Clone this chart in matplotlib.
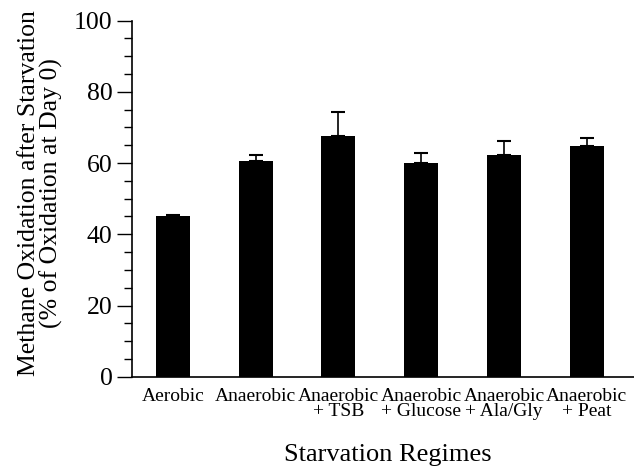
import numpy as np
import matplotlib.pyplot as plt
from matplotlib.ticker import MultipleLocator

categories = ["Aerobic", "Anaerobic", "Anaerobic\n+ TSB", "Anaerobic\n+ Glucose",
              "Anaerobic\n+ Ala/Gly", "Anaerobic\n+ Peat"]
values = [45.2, 60.5, 67.5, 60.1, 62.2, 64.7]
errors = [0.3, 1.7, 6.8, 2.6, 4.1, 2.3]

plt.rcParams["font.family"] = ["Liberation Serif", "DejaVu Serif"]

fig = plt.figure(figsize=(6.34, 4.68), dpi=100)
ax = fig.add_axes([0.2085, 0.195, 0.7915, 0.761])

x = np.arange(len(categories))
ax.errorbar(x, values, yerr=[np.zeros(len(errors)), errors], fmt="none",
            ecolor="black", elinewidth=1.2, capsize=5, capthick=1.5, zorder=1)
ax.bar(x, values, width=0.41, color="black", zorder=2)

ax.set_xlim(-0.49, 5.57)
ax.set_ylim(0, 100)
ax.set_xticks(x)
ax.set_xticklabels(categories, fontsize=14, linespacing=0.85)
ax.tick_params(axis="x", length=0, pad=8)
ax.yaxis.set_major_locator(MultipleLocator(20))
ax.yaxis.set_minor_locator(MultipleLocator(5))
ax.tick_params(axis="y", which="major", length=11, width=1, labelsize=18.5, pad=3)
ax.tick_params(axis="y", which="minor", length=6, width=1)

for s in ["top", "right"]:
    ax.spines[s].set_visible(False)
ax.spines["left"].set_linewidth(1.2)
ax.spines["bottom"].set_linewidth(1.2)

ax.set_ylabel("Methane Oxidation after Starvation\n(% of Oxidation at Day 0)",
              fontsize=18.5, linespacing=1.0)
ax.yaxis.set_label_coords(-0.137, 0.515)
ax.set_xlabel("Starvation Regimes", fontsize=19)
ax.xaxis.set_label_coords(0.51, -0.19)

fig.savefig("out.png", dpi=100)
